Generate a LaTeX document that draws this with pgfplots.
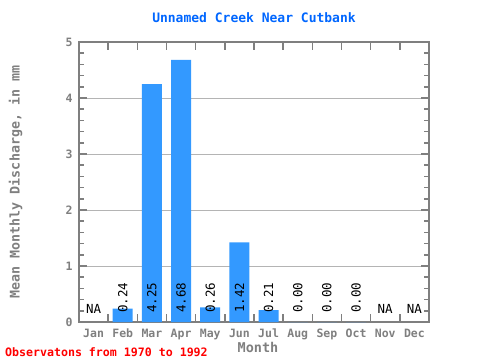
\documentclass[border=0pt]{standalone}
\usepackage{fontspec}
\setmainfont{DejaVu Sans Mono}
\usepackage{pgfplots}
\pgfplotsset{compat=1.18}
\usepackage{pgfplotstable}
\definecolor{barblue}{HTML}{3399FF}
\definecolor{titleblue}{HTML}{0066FF}
\definecolor{axgray}{HTML}{7F7F7F}
\definecolor{gridgray}{HTML}{B4B4B4}
\pgfplotstableread{
x y
2 0.24
3 4.25
4 4.68
5 0.26
6 1.42
7 0.21
8 0.00
9 0.00
10 0.00
}\bardata
\pgfplotstableread{
x y lab
2 0.16 0.24
3 0.16 4.25
4 0.16 4.68
5 0.16 0.26
6 0.16 1.42
7 0.16 0.21
8 0.16 0.00
9 0.16 0.00
10 0.16 0.00
}\vallabels
\pgfplotstableread{
x y lab
1 0.23 NA
11 0.23 NA
12 0.23 NA
}\nalabels
\begin{document}
\begin{tikzpicture}[x=1pt,y=1pt]
\useasboundingbox (0,0) rectangle (480,360);
\begin{axis}[
  at={(79pt,38pt)}, anchor=south west,
  width=350pt, height=280pt, scale only axis,
  xmin=0.5, xmax=12.5, ymin=0, ymax=5,
  xtick={0.5,1.5,...,12.5},
  xticklabels={},
  extra x ticks={1,2,...,12},
  extra x tick labels={Jan,Feb,Mar,Apr,May,Jun,Jul,Aug,Sep,Oct,Nov,Dec},
  extra x tick style={major tick length=0pt},
  ytick={0,1,2,3,4,5},
  minor y tick num=4,
  major tick length=8pt,
  minor tick length=5pt,
  axis line style={axgray, line width=2pt},
  every tick/.style={axgray, line width=1.5pt},
  ymajorgrids,
  grid style={gridgray, line width=1pt},
  /pgf/number format/assume math mode=true,
  ticklabel style={text=axgray, font=\bfseries\fontsize{11.5}{11.5}\selectfont},
  xticklabel style={anchor=north, yshift=-3pt, text height=8.5pt, text depth=2.5pt},
  yticklabel style={xshift=-3pt, font=\bfseries\fontsize{11.5}{11.5}\selectfont},
  title={Unnamed Creek Near Cutbank},
  title style={at={(axis description cs:0.5,1)}, anchor=center, yshift=18pt, font=\bfseries\fontsize{13}{13}\selectfont, text=titleblue},
  xlabel={Month},
  xlabel style={at={(axis description cs:0.5,0)}, anchor=center, yshift=-25pt, xshift=4pt, font=\bfseries\fontsize{13.5}{13.5}\selectfont, text=axgray},
  ylabel={Mean Monthly Discharge, in mm},
  ylabel style={at={(axis description cs:-0.181,0.5)}, anchor=center, font=\bfseries\fontsize{13.3}{13.3}\selectfont, text=axgray},
  clip=false,
]
\addplot[ybar, bar width=20pt, fill=barblue, draw=none] table[x=x, y=y] {\bardata};
\addplot[draw=none, mark=none, nodes near coords, point meta=explicit symbolic,
  every node near coord/.append style={rotate=90, anchor=west, inner sep=0pt, text=black, font=\fontsize{12.5}{12.5}\selectfont}]
  table[x=x, y=y, meta=lab] {\vallabels};
\addplot[draw=none, mark=none, nodes near coords, point meta=explicit symbolic,
  every node near coord/.append style={anchor=center, inner sep=0pt, text=black, font=\fontsize{12.5}{12.5}\selectfont}]
  table[x=x, y=y, meta=lab] {\nalabels};
\end{axis}
\node[anchor=west, text=red, font=\bfseries\fontsize{11.6}{11.6}\selectfont, inner sep=0pt] at (5,8) {Observatons from 1970 to 1992};
\end{tikzpicture}
\end{document}
